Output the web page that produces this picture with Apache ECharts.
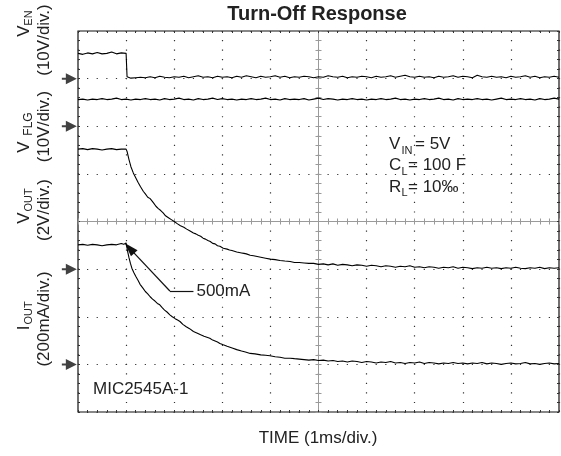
<!DOCTYPE html>
<html><head><meta charset="utf-8">
<script src="https://cdn.jsdelivr.net/npm/echarts/dist/echarts.min.js"></script>
<style>html,body{margin:0;padding:0;background:#fff}#c{width:561px;height:456px}</style>
</head><body><div id="c"></div>
<script>
// time in divisions (1 ms/div), level in vertical divisions (0 = bottom of screen)
const ven = [[0,7.53],[0.1,7.51],[0.2,7.54],[0.3,7.52],[0.4,7.55],[0.5,7.52],[0.6,7.53],[0.7,7.56],[0.8,7.52],[0.9,7.54],[1.0,7.53],[1.01,7.53],[1.02,7.04],
[1.1,7.01],[1.2,7.02],[1.3,7.03],[1.4,7.02],[1.5,7.04],[1.6,7.02],[1.7,7.05],[1.8,7.03],[1.9,7.02],[2.0,7.04],
[2.1,7.03],[2.2,7.05],[2.3,7.02],[2.4,7.04],[2.5,7.06],[2.6,7.03],[2.7,7.04],[2.8,7.02],[2.9,7.05],[3.0,7.03],
[3.1,7.04],[3.2,7.02],[3.3,7.05],[3.4,7.03],[3.5,7.06],[3.6,7.04],[3.7,7.02],[3.8,7.05],[3.9,7.03],[4.0,7.04],
[4.1,7.06],[4.2,7.03],[4.3,7.05],[4.4,7.02],[4.5,7.04],[4.6,7.03],[4.7,7.05],[4.8,7.04],[4.9,7.02],[5.0,7.04],
[5.1,7.03],[5.2,7.06],[5.3,7.04],[5.4,7.03],[5.5,7.05],[5.6,7.02],[5.7,7.04],[5.8,7.03],[5.9,7.05],[6.0,7.04],
[6.1,7.02],[6.2,7.05],[6.3,7.03],[6.4,7.04],[6.5,7.06],[6.6,7.03],[6.7,7.05],[6.8,7.07],[6.9,7.04],[7.0,7.03],
[7.1,7.05],[7.2,7.03],[7.3,7.04],[7.4,7.02],[7.5,7.05],[7.6,7.03],[7.7,7.04],[7.8,7.06],[7.9,7.03],[8.0,7.05],
[8.1,7.04],[8.2,7.02],[8.3,7.07],[8.4,7.04],[8.5,7.03],[8.6,7.05],[8.7,7.03],[8.8,7.04],[8.9,7.02],[9.0,7.05],
[9.1,7.03],[9.2,7.04],[9.3,7.06],[9.4,7.03],[9.5,7.05],[9.6,7.02],[9.7,7.04],[9.8,7.03],[9.9,7.05],[10.0,7.03]];

const vflg = [[0,6.56],[0.1,6.57],[0.2,6.55],[0.3,6.57],[0.4,6.56],[0.5,6.58],[0.6,6.56],[0.7,6.57],[0.8,6.59],[0.9,6.56],
[1.0,6.57],[1.1,6.55],[1.2,6.57],[1.3,6.56],[1.4,6.58],[1.5,6.56],[1.6,6.57],[1.7,6.55],[1.8,6.58],[1.9,6.56],
[2.0,6.57],[2.1,6.59],[2.2,6.56],[2.3,6.57],[2.4,6.55],[2.5,6.58],[2.6,6.56],[2.7,6.57],[2.8,6.59],[2.9,6.56],
[3.0,6.58],[3.1,6.56],[3.2,6.57],[3.3,6.55],[3.4,6.57],[3.5,6.56],[3.6,6.58],[3.7,6.56],[3.8,6.57],[3.9,6.59],
[4.0,6.56],[4.1,6.57],[4.2,6.55],[4.3,6.58],[4.4,6.56],[4.5,6.57],[4.6,6.56],[4.7,6.58],[4.8,6.55],[4.9,6.57],
[5.0,6.59],[5.1,6.56],[5.2,6.58],[5.3,6.57],[5.4,6.55],[5.5,6.57],[5.6,6.56],[5.7,6.58],[5.8,6.56],[5.9,6.57],
[6.0,6.55],[6.1,6.57],[6.2,6.56],[6.3,6.58],[6.4,6.56],[6.5,6.57],[6.6,6.59],[6.7,6.56],[6.8,6.57],[6.9,6.55],
[7.0,6.57],[7.1,6.56],[7.2,6.58],[7.3,6.56],[7.4,6.57],[7.5,6.59],[7.6,6.56],[7.7,6.57],[7.8,6.55],[7.9,6.58],
[8.0,6.56],[8.1,6.57],[8.2,6.56],[8.3,6.58],[8.4,6.56],[8.5,6.57],[8.6,6.55],[8.7,6.57],[8.8,6.59],[8.9,6.56],
[9.0,6.57],[9.1,6.56],[9.2,6.58],[9.3,6.56],[9.4,6.57],[9.5,6.55],[9.6,6.58],[9.7,6.56],[9.8,6.57],[9.9,6.59],[10.0,6.57]];

const vout = [[0,5.52],[0.1,5.53],[0.2,5.51],[0.3,5.53],[0.4,5.52],[0.5,5.50],[0.6,5.52],[0.7,5.53],[0.8,5.51],[0.9,5.52],[1.0,5.52],
[1.02,5.47],[1.06,5.30],[1.1,5.15],[1.15,5.02],[1.2,4.92],[1.25,4.82],[1.3,4.73],[1.36,4.63],[1.4,4.58],[1.45,4.51],[1.5,4.48],
[1.57,4.39],[1.62,4.32],[1.67,4.27],[1.72,4.23],[1.77,4.18],[1.82,4.12],[1.88,4.08],[1.94,4.04],[2.0,4.00],[2.07,3.95],
[2.13,3.91],[2.2,3.88],[2.26,3.84],[2.33,3.80],[2.4,3.76],[2.45,3.74],[2.5,3.71],[2.55,3.69],[2.6,3.65],[2.65,3.63],
[2.7,3.60],[2.75,3.58],[2.8,3.54],[2.85,3.53],[2.9,3.49],[2.95,3.48],[3.02,3.44],[3.1,3.42],[3.15,3.40],[3.2,3.39],
[3.3,3.36],[3.4,3.34],[3.45,3.33],[3.5,3.32],[3.58,3.29],[3.65,3.28],[3.7,3.27],[3.8,3.25],[3.9,3.23],[4.0,3.21],
[4.1,3.20],[4.2,3.18],[4.3,3.17],[4.41,3.16],[4.5,3.14],[4.6,3.14],[4.7,3.13],[4.8,3.12],
[4.9,3.12],[5.0,3.10],[5.1,3.11],[5.2,3.09],[5.3,3.11],[5.4,3.08],[5.5,3.10],[5.6,3.09],[5.7,3.07],[5.8,3.09],
[5.9,3.08],[6.0,3.06],[6.1,3.08],[6.2,3.07],[6.3,3.05],[6.4,3.07],[6.5,3.06],[6.6,3.04],[6.7,3.06],[6.8,3.05],
[6.9,3.07],[7.0,3.04],[7.1,3.05],[7.2,3.03],[7.3,3.05],[7.4,3.04],[7.5,3.02],[7.6,3.04],[7.7,3.03],[7.8,3.05],
[7.9,3.02],[8.0,3.04],[8.1,3.03],[8.2,3.01],[8.3,3.03],[8.4,3.02],[8.5,3.04],[8.6,3.02],[8.7,3.03],[8.8,3.01],
[8.9,3.03],[9.0,3.02],[9.1,3.04],[9.2,3.02],[9.3,3.01],[9.4,3.03],[9.5,3.02],[9.6,3.04],[9.7,3.01],[9.8,3.03],
[9.9,3.02],[10.0,3.03]];

const iout = [[0,3.51],[0.1,3.52],[0.2,3.50],[0.3,3.52],[0.4,3.51],[0.5,3.49],[0.6,3.51],[0.7,3.52],[0.8,3.51],[0.9,3.54],[0.95,3.52],[1.0,3.55],
[1.02,3.52],[1.03,3.38],[1.06,3.24],[1.09,3.12],[1.12,3.02],[1.16,2.93],[1.2,2.85],[1.25,2.76],[1.29,2.68],[1.35,2.60],
[1.4,2.53],[1.45,2.48],[1.5,2.42],[1.55,2.37],[1.6,2.33],[1.65,2.28],[1.7,2.25],[1.75,2.19],[1.8,2.14],[1.85,2.10],
[1.91,2.04],[1.96,2.00],[2.02,1.96],[2.07,1.93],[2.12,1.90],[2.18,1.84],[2.25,1.79],[2.32,1.75],[2.4,1.69],[2.47,1.66],
[2.55,1.62],[2.62,1.59],[2.68,1.57],[2.74,1.55],[2.8,1.51],[2.85,1.49],[2.9,1.47],[2.95,1.44],[3.02,1.41],[3.1,1.38],
[3.16,1.36],[3.22,1.34],[3.3,1.31],[3.4,1.28],[3.48,1.26],[3.58,1.23],[3.68,1.22],[3.8,1.20],[3.9,1.19],[3.99,1.18],
[4.1,1.16],[4.2,1.15],[4.3,1.13],[4.41,1.13],[4.5,1.12],[4.6,1.11],[4.7,1.10],[4.8,1.09],
[4.9,1.10],[5.0,1.08],[5.1,1.09],[5.2,1.07],[5.3,1.08],[5.4,1.06],[5.5,1.07],[5.6,1.05],[5.7,1.07],[5.8,1.06],
[5.9,1.04],[6.0,1.06],[6.1,1.05],[6.2,1.03],[6.3,1.05],[6.4,1.04],[6.5,1.06],[6.6,1.03],[6.7,1.04],[6.8,1.02],
[6.9,1.04],[7.0,1.03],[7.1,1.05],[7.2,1.02],[7.3,1.04],[7.4,1.03],[7.5,1.01],[7.6,1.03],[7.7,1.02],[7.8,1.04],
[7.9,1.02],[8.0,1.03],[8.1,1.01],[8.2,1.03],[8.3,1.02],[8.4,1.04],[8.5,1.01],[8.6,1.03],[8.7,1.02],[8.8,1.00],
[8.9,1.02],[9.0,1.03],[9.1,1.01],[9.2,1.02],[9.3,1.04],[9.4,1.01],[9.5,1.02],[9.6,1.00],[9.7,1.02],[9.8,1.03],
[9.9,1.01],[10.0,1.02]];

// ground reference markers (left arrows) for VEN, VFLG, VOUT, IOUT
const groundLevels = [7, 6, 3, 1];
const arrowX = -0.18;
// 500mA callout: elbow, end of leader, arrow tip
const calloutElbow = [1.91, 2.54];
const calloutEnd = [2.40, 2.54];
const calloutTip = [1.07, 3.44];

const FONT = "'Liberation Sans', Arial, Helvetica, sans-serif";
const TXT = '#222';

const chart = echarts.init(document.getElementById('c'), null, {renderer: 'canvas'});

const baseX = {type: 'value', min: 0, max: 10, axisLabel: {show: false}, axisLine: {onZero: false}};
const baseY = {type: 'value', min: 0, max: 8, axisLabel: {show: false}, axisLine: {onZero: false}};
const edgeTick = {show: true, inside: true, length: 2, lineStyle: {color: '#333', width: 1}};
const edgeMinor = {show: true, splitNumber: 5, length: 2, lineStyle: {color: '#333', width: 1}};
const centerLine = {show: true, onZero: false, lineStyle: {color: '#9a9a9a', width: 1}};

function rtext(x, y, text, size, extra) {
  return Object.assign({type: 'text', x: x, y: y, rotation: Math.PI / 2, silent: true,
    style: {text: text, font: size + 'px ' + FONT, fill: TXT, textAlign: 'center', textVerticalAlign: 'middle'}}, extra || {});
}
function htext(x, y, text, size, align) {
  return {type: 'text', x: x, y: y, silent: true,
    style: {text: text, font: size + 'px ' + FONT, fill: TXT, textAlign: align || 'left', textVerticalAlign: 'middle'}};
}

const option = {
  animation: false,
  backgroundColor: '#fff',
  grid: {left: 78, top: 31, width: 481, height: 381, show: true, borderColor: '#111', borderWidth: 1.2, backgroundColor: 'transparent', outerBoundsMode: 'none', containLabel: false},
  xAxis: [
    Object.assign({}, baseX, {position: 'bottom', axisLine: {show: false, onZero: false}, interval: 1,
      axisTick: edgeTick, minorTick: edgeMinor,
      splitLine: {show: true, lineStyle: {color: '#333', width: 1.2, type: [1.2, 8.325], dashOffset: 0.6}}}),
    Object.assign({}, baseX, {position: 'bottom', offset: -190.5, interval: 0.2, axisLine: centerLine,
      axisTick: {show: true, length: 3, lineStyle: {color: '#9a9a9a', width: 1}}, splitLine: {show: false}}),
    Object.assign({}, baseX, {position: 'bottom', offset: -190.5, interval: 0.2, axisLine: {show: false, onZero: false},
      axisTick: {show: true, inside: true, length: 3, lineStyle: {color: '#9a9a9a', width: 1}}, splitLine: {show: false}}),
    Object.assign({}, baseX, {position: 'top', interval: 1, axisLine: {show: false, onZero: false},
      axisTick: edgeTick, minorTick: edgeMinor, splitLine: {show: false}})
  ],
  yAxis: [
    Object.assign({}, baseY, {position: 'left', axisLine: {show: false, onZero: false}, interval: 1,
      axisTick: edgeTick, minorTick: edgeMinor,
      splitLine: {show: true, lineStyle: {color: '#333', width: 1.2, type: [1.2, 8.42], dashOffset: 0.6}}}),
    Object.assign({}, baseY, {position: 'left', offset: -240.5, interval: 0.2, axisLine: centerLine,
      axisTick: {show: true, length: 3, lineStyle: {color: '#9a9a9a', width: 1}}, splitLine: {show: false}}),
    Object.assign({}, baseY, {position: 'left', offset: -240.5, interval: 0.2, axisLine: {show: false, onZero: false},
      axisTick: {show: true, inside: true, length: 3, lineStyle: {color: '#9a9a9a', width: 1}}, splitLine: {show: false}}),
    Object.assign({}, baseY, {position: 'right', interval: 1, axisLine: {show: false, onZero: false},
      axisTick: edgeTick, minorTick: edgeMinor, splitLine: {show: false}})
  ],
  series: [
    {type: 'line', name: 'VEN', data: ven, showSymbol: false, symbol: 'none', lineStyle: {color: '#000', width: 1.1}, z: 5},
    {type: 'line', name: 'VFLG', data: vflg, showSymbol: false, symbol: 'none', lineStyle: {color: '#000', width: 1.1}, z: 5},
    {type: 'line', name: 'VOUT', data: vout, showSymbol: false, symbol: 'none', lineStyle: {color: '#000', width: 1.1}, z: 5},
    {type: 'line', name: 'IOUT', data: iout, showSymbol: false, symbol: 'none', lineStyle: {color: '#000', width: 1.1}, z: 5,
      markLine: {silent: true, animation: false, symbol: ['none', 'none'],
        lineStyle: {color: '#111', width: 1.2, type: 'solid'},
        label: {show: false},
        data: [
          [{coord: calloutEnd, label: {show: true, position: 'start', formatter: '500mA', distance: 3, color: TXT, fontSize: 17, fontFamily: FONT}},
           {coord: calloutElbow}],
          [{coord: calloutElbow, symbol: 'none'}, {coord: calloutTip, symbol: 'triangle', symbolSize: [9, 14]}]
        ]}},
    {type: 'scatter', name: 'ground', clip: false, data: groundLevels.map(v => [arrowX, v]),
      symbol: 'path://M0,4.5L4,4.5L4,0L15,5.5L4,11L4,6.5L0,6.5Z', symbolSize: [15, 11],
      itemStyle: {color: '#111'}, z: 6}
  ],
  graphic: [
    {type: 'text', x: 317, y: 14, silent: true, style: {text: 'Turn-Off Response', font: 'bold 20px ' + FONT, fill: TXT, textAlign: 'center', textVerticalAlign: 'middle'}},
    htext(318, 438, 'TIME (1ms/div.)', 17, 'center'),
    htext(93, 389, 'MIC2545A-1', 17),
    htext(389, 144, 'V', 17), htext(401.5, 150.5, 'IN', 11), htext(415, 144, '= 5V', 17),
    htext(389, 165.5, 'C', 17), htext(401.5, 172, 'L', 11), htext(408, 165.5, '= 100 F', 17),
    htext(389, 187.2, 'R', 17), htext(401.5, 193.3, 'L', 11), htext(408, 187.2, '= 10‰', 17),
    rtext(24, 31, 'V', 17), rtext(29, 18, 'EN', 11), rtext(44, 40, '(10V/div.)', 17),
    rtext(24, 147, 'V', 17), rtext(29, 124, 'FLG', 12), rtext(44, 126.5, '(10V/div.)', 17),
    rtext(24, 218, 'V', 17), rtext(29, 200, 'OUT', 11), rtext(44, 210, '(2V/div.)', 17),
    rtext(24, 328, 'I', 17), rtext(29, 313, 'OUT', 11), rtext(44, 319, '(200mA/div.)', 17)
  ]
};
chart.setOption(option);
</script>
</body></html>
